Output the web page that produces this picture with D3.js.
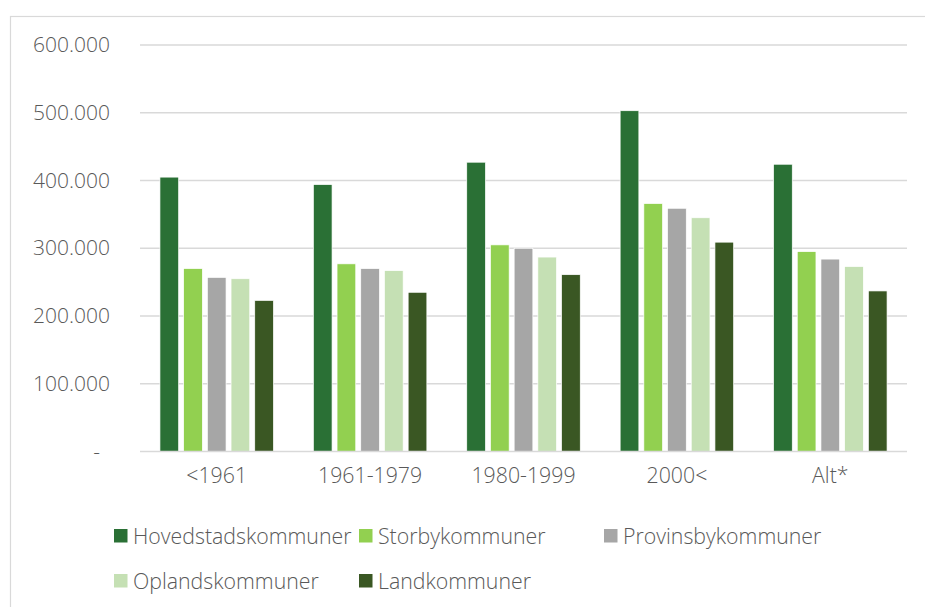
<!DOCTYPE html>
<html>
<head>
<meta charset="utf-8">
<script src="https://cdn.jsdelivr.net/npm/d3@7"></script>
<style>
  html, body { margin: 0; padding: 0; background: #fff; }
  svg { display: block; }
  text { font-family: "Open Sans", "Noto Sans", sans-serif; fill: #595959; font-weight: 300; }
</style>
</head>
<body>
<svg id="chart" width="925" height="607"></svg>
<script>
// ---- data ----
const categories = ["<1961", "1961-1979", "1980-1999", "2000<", "Alt*"];
const seriesNames = ["Hovedstadskommuner", "Storbykommuner", "Provinsbykommuner", "Oplandskommuner", "Landkommuner"];
const hovedstadskommuner = [405000, 394000, 427000, 503000, 424000];
const storbykommuner     = [270000, 277000, 305000, 366000, 295000];
const provinsbykommuner  = [257000, 270000, 300000, 359000, 284000];
const oplandskommuner    = [255000, 267000, 287000, 345000, 273000];
const landkommuner       = [223000, 235000, 261000, 309000, 237000];
const yTicks = [0, 100000, 200000, 300000, 400000, 500000, 600000];
const seriesValues = [hovedstadskommuner, storbykommuner, provinsbykommuner, oplandskommuner, landkommuner];
const colors = ["#2a7035", "#92d050", "#a6a6a6", "#c5e0b4", "#3a5723"];

// ---- layout ----
const svg = d3.select("#chart");
const plot = { left: 140, right: 907, top: 45, bottom: 451.5 };

svg.append("rect").attr("x", 0).attr("y", 0).attr("width", 925).attr("height", 607).attr("fill", "#fff");
svg.append("rect").attr("x", 10.5).attr("y", 16.5).attr("width", 940).attr("height", 620)
  .attr("fill", "none").attr("stroke", "#d9d9d9").attr("stroke-width", 1.2);

const x0 = d3.scaleBand().domain(categories).range([plot.left, plot.right]).paddingInner(0).paddingOuter(0);
const bw = x0.bandwidth();
const x1 = d3.scaleBand().domain(seriesNames).range([bw * 0.13, bw * 0.87]).paddingInner(0.21).paddingOuter(0);
const y = d3.scaleLinear().domain([0, 600000]).range([plot.bottom, plot.top]);

const loc = d3.formatLocale({ decimal: ",", thousands: ".", grouping: [3], currency: ["", ""] });
const fmt = loc.format(",");

// gridlines
svg.append("g").selectAll("line").data(yTicks.filter(d => d > 0)).join("line")
  .attr("x1", plot.left).attr("x2", plot.right)
  .attr("y1", d => y(d)).attr("y2", d => y(d))
  .attr("stroke", "#d9d9d9").attr("stroke-width", 1.3);

// y axis labels
const yAxis = d3.axisLeft(y).tickValues(yTicks).tickSize(0).tickPadding(0)
  .tickFormat(d => d === 0 ? "-" : fmt(d));
const yg = svg.append("g").attr("transform", "translate(110,0)").call(yAxis);
yg.select(".domain").remove();
yg.selectAll("text").attr("font-size", 21).style("font-family", '"Open Sans", sans-serif')
  .style("font-weight", 300).attr("fill", "#595959")
  .attr("dx", d => d === 0 ? -10 : 0);

// bars
const groups = svg.append("g").selectAll("g").data(categories).join("g")
  .attr("transform", c => `translate(${x0(c)},0)`);
groups.selectAll("rect").data((c, ci) => seriesNames.map((s, si) => ({ s, si, v: seriesValues[si][ci] })))
  .join("rect")
  .attr("x", d => x1(d.s)).attr("width", x1.bandwidth())
  .attr("y", d => y(d.v)).attr("height", d => y(0) - y(d.v))
  .attr("fill", d => colors[d.si]).attr("stroke", "#fff").attr("stroke-width", 0.7);

// baseline
svg.append("line").attr("x1", plot.left).attr("x2", plot.right)
  .attr("y1", y(0)).attr("y2", y(0)).attr("stroke", "#d9d9d9").attr("stroke-width", 1.5);

// x axis labels
const xAxis = d3.axisBottom(x0).tickSize(0).tickPadding(0);
const xg = svg.append("g").attr("transform", `translate(0,${y(0)})`).call(xAxis);
xg.select(".domain").remove();
xg.selectAll("text").attr("font-size", 21.3).style("font-family", '"Open Sans", sans-serif')
  .style("font-weight", 300).attr("fill", "#595959").attr("y", 0).attr("dy", "1.5em");

// legend
const legendPos = [[114, 536], [359, 536], [604, 536], [114, 581], [359, 581]];
const lg = svg.append("g").selectAll("g").data(seriesNames).join("g")
  .attr("transform", (d, i) => `translate(${legendPos[i][0]},${legendPos[i][1]})`);
lg.append("rect").attr("x", 0).attr("y", -7).attr("width", 13.5).attr("height", 13.5)
  .attr("fill", (d, i) => colors[i]);
lg.append("text").attr("x", 19).attr("y", 0).attr("dy", "0.36em")
  .attr("font-size", 21.3).text(d => d);
</script>
</body>
</html>
